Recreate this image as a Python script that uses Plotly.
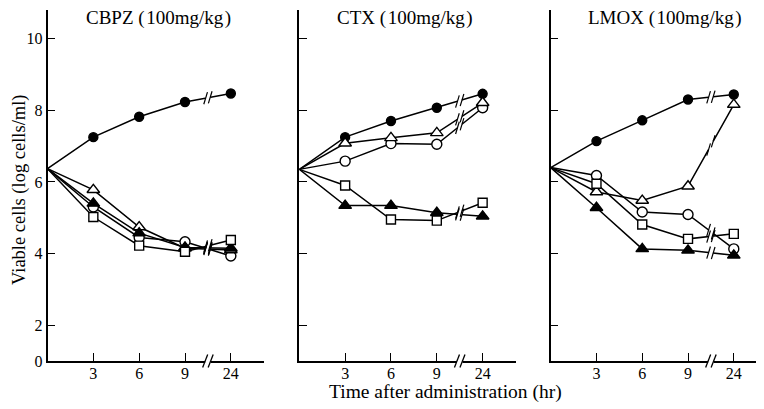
import plotly.graph_objects as go

# ---------------- data ----------------
hours = ["0", "3", "6", "9", "24"]
tick_hours = ["3", "6", "9", "24"]
panel_titles = ["CBPZ (\u200a100mg/kg\u200a)", "CTX (\u200a100mg/kg\u200a)", "LMOX (\u200a100mg/kg\u200a)"]

# CBPZ
cbpz_filled_circle = [6.37, 7.25, 7.82, 8.23, 8.47]
cbpz_open_circle = [6.37, 5.30, 4.45, 4.33, 3.93]
cbpz_open_triangle = [6.37, 5.78, 4.74, 4.15, 4.10]
cbpz_filled_triangle = [6.37, 5.40, 4.57, 4.17, 4.15]
cbpz_open_square = [6.37, 5.02, 4.22, 4.05, 4.38]

# CTX
ctx_filled_circle = [6.35, 7.25, 7.70, 8.07, 8.46]
ctx_open_circle = [6.35, 6.58, 7.07, 7.05, 8.07]
ctx_open_triangle = [6.35, 7.08, 7.23, 7.37, 8.21]
ctx_filled_triangle = [6.35, 5.34, 5.34, 5.14, 5.04]
ctx_open_square = [6.35, 5.90, 4.95, 4.92, 5.42]

# LMOX
lmox_filled_circle = [6.40, 7.14, 7.72, 8.30, 8.44]
lmox_open_circle = [6.40, 6.18, 5.16, 5.09, 4.13]
lmox_open_triangle = [6.40, 5.72, 5.48, 5.88, 8.16]
lmox_filled_triangle = [6.40, 5.28, 4.13, 4.09, 3.95]
lmox_open_square = [6.40, 5.95, 4.81, 4.41, 4.55]

y_ticks = [1.0, 2, 4, 6, 8, 10]
y_ticktext = ["0", "2", "4", "6", "8", "10"]

panels = [
    [cbpz_filled_circle, cbpz_open_circle, cbpz_open_triangle, cbpz_filled_triangle, cbpz_open_square],
    [ctx_filled_circle, ctx_open_circle, ctx_open_triangle, ctx_filled_triangle, ctx_open_square],
    [lmox_filled_circle, lmox_open_circle, lmox_open_triangle, lmox_filled_triangle, lmox_open_square],
]
# (symbol, fill colour, size)
styles = [
    ("circle", "black", 9),
    ("circle", "white", 10),
    ("triangle-up", "white", 11),
    ("triangle-up", "black", 11),
    ("square", "white", 9),
]

# ---------------- layout ----------------
# the page body has an 8px margin, so the figure is drawn 8px in from the window edge
OFF = 8
W, H = 764 - OFF, 409 - OFF
FONT = "Liberation Serif, Times New Roman, serif"


def px(X):
    return (X - OFF) / W


def py(Y):
    return 1 - (Y - OFF) / H


x_domains = [[px(47.5), px(264.3)], [px(299.3), px(516.1)], [px(550.7), 1.0]]
x_ranges = [[0, 4.73], [0, 4.73], [0, 4.66]]
y_domain = [py(361), py(10)]
y_range = [1.0, 10.8]
title_x = [158, 405, 665]
BREAK = 3.5  # position of the axis break between 9 and 24 hr

fig = go.Figure()
shapes_white = []
shapes_black = []

for p, series in enumerate(panels):
    xa = "x" if p == 0 else f"x{p + 1}"
    ya = "y" if p == 0 else f"y{p + 1}"
    for vals in series:
        fig.add_trace(go.Scatter(x=hours, y=vals, mode="lines", xaxis=xa, yaxis=ya,
                                 line=dict(color="black", width=1.5), showlegend=False,
                                 hoverinfo="skip"))
    for vals, (sym, fill, size) in zip(series, styles):
        fig.add_trace(go.Scatter(x=hours[1:], y=vals[1:], mode="markers", xaxis=xa, yaxis=ya,
                                 marker=dict(symbol=sym, color=fill, size=size,
                                             line=dict(color="black", width=1.4)),
                                 showlegend=False, hoverinfo="skip"))
    # break marks on the lines crossing the 9 -> 24 gap
    for vals in series:
        def yat(t, v=vals):
            return v[3] + (v[4] - v[3]) * (t - 3)
        c1, c2 = BREAK - 0.05, BREAK + 0.05
        shapes_white.append(dict(type="line", xref=xa, yref=ya, x0=c1, x1=c2,
                                 y0=yat(c1), y1=yat(c2), line=dict(color="white", width=4)))
        for c in (c1, c2):
            shapes_black.append(dict(type="line", xref=xa, yref=ya,
                                     x0=c - 0.04, x1=c + 0.04,
                                     y0=yat(c) - 0.17, y1=yat(c) + 0.17,
                                     line=dict(color="black", width=1.2)))
    # break on the x axis line
    c1, c2 = BREAK - 0.06, BREAK + 0.06
    shapes_white.append(dict(type="rect", xref=xa, yref="paper", x0=c1, x1=c2,
                             y0=y_domain[0] - 0.006, y1=y_domain[0] + 0.006,
                             fillcolor="white", line=dict(width=0)))
    for c in (c1, c2):
        shapes_black.append(dict(type="line", xref=xa, yref="paper",
                                 x0=c - 0.055, x1=c + 0.055,
                                 y0=y_domain[0] - 0.016, y1=y_domain[0] + 0.016,
                                 line=dict(color="black", width=1.3)))

    xkey = "xaxis" if p == 0 else f"xaxis{p + 1}"
    ykey = "yaxis" if p == 0 else f"yaxis{p + 1}"
    fig.layout[xkey] = dict(
        domain=x_domains[p], anchor=ya, type="category", categoryorder="array",
        categoryarray=hours, range=x_ranges[p], tickmode="array", tickvals=tick_hours,
        ticktext=tick_hours, ticks="inside", ticklen=8, tickwidth=1.3, tickcolor="black",
        ticklabelstandoff=-3,
        showline=True, linecolor="black", linewidth=1.5, showgrid=False, zeroline=False,
        automargin=False, tickfont=dict(family=FONT, size=16, color="black"),
    )
    fig.layout[ykey] = dict(
        domain=y_domain, anchor=xa, range=y_range, tickmode="array", tickvals=y_ticks,
        ticktext=y_ticktext, showticklabels=(p == 0), ticks="inside", ticklen=8,
        tickwidth=1.3, tickcolor="black", showline=True, linecolor="black", linewidth=1.5,
        showgrid=False, zeroline=False, automargin=False,
        tickfont=dict(family=FONT, size=16, color="black"),
    )

annotations = []
for p in range(3):
    annotations.append(dict(text=panel_titles[p], x=px(title_x[p]), y=py(18),
                            xref="paper", yref="paper", showarrow=False,
                            xanchor="center", yanchor="middle",
                            font=dict(family=FONT, size=19, color="black")))
annotations.append(dict(text="Viable cells (log cells/ml)", x=px(20), y=py(190),
                        xref="paper", yref="paper", showarrow=False, textangle=-90,
                        xanchor="center", yanchor="middle", borderpad=0,
                        font=dict(family=FONT, size=18.5, color="black")))
annotations.append(dict(text="Time after administration (hr)", x=px(445), y=py(392),
                        xref="paper", yref="paper", showarrow=False,
                        xanchor="center", yanchor="middle",
                        font=dict(family=FONT, size=19.5, color="black")))

fig.update_layout(
    template="none",
    width=W, height=H, margin=dict(l=0, r=0, t=0, b=0, autoexpand=False),
    paper_bgcolor="white", plot_bgcolor="white",
    annotations=annotations, shapes=shapes_white + shapes_black,
    font=dict(family=FONT, color="black"), showlegend=False,
)

fig.write_html("out.html")
